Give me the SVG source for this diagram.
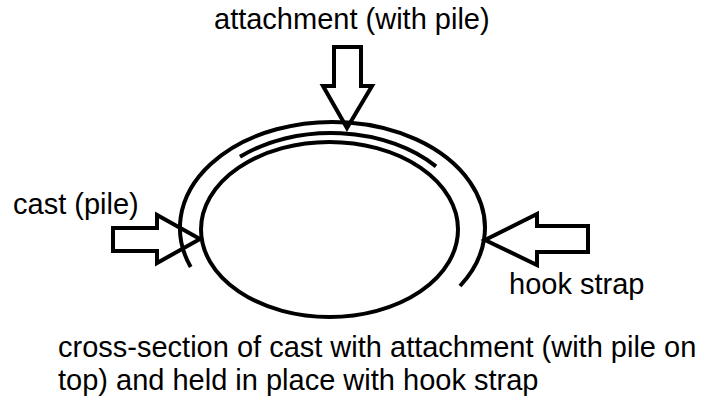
<svg xmlns="http://www.w3.org/2000/svg" width="708" height="408" viewBox="0 0 708 408">
  <style>
    .ln { fill: none; stroke: #000; stroke-width: 4; stroke-linejoin: miter; }
    .t { font-family: "Liberation Sans", Arial, sans-serif; font-size: 29px; fill: #000; }
  </style>
  <rect width="708" height="408" fill="#fff"/>
  <g id="cast">
    <ellipse class="ln" cx="329.5" cy="229.5" rx="128.5" ry="87.5"/>
  </g>
  <g id="attachment-layer">
    <path class="ln" d="M 240 156.7 A 139 97 0 0 1 436 166.4"/>
  </g>
  <g id="hook-strap-band">
    <path class="ln" d="M 190.7 267 A 152.5 106 0 1 1 460 286"/>
  </g>
  <g id="connectors">
    <polygon id="arrow-top" class="ln" points="334,47 361,47 361,86 372,86 347,128 323,86 334,86"/>
    <polygon id="arrow-left" class="ln" points="113,228 157,228 157,215 200,239 157,263 157,251 113,251"/>
    <polygon id="arrow-right" class="ln" points="588,226 537,226 537,214 485,240 537,265 537,252 588,252"/>
  </g>
  <g id="label-attachment"><text class="t" x="214" y="29">attachment (with pile)</text></g>
  <g id="label-cast"><text class="t" x="13" y="214">cast (pile)</text></g>
  <g id="label-hook"><text class="t" x="509" y="294">hook strap</text></g>
  <g id="caption">
    <text class="t" x="58" y="357">cross-section of cast with attachment (with pile on</text>
    <text class="t" x="58" y="390">top) and held in place with hook strap</text>
  </g>
</svg>
